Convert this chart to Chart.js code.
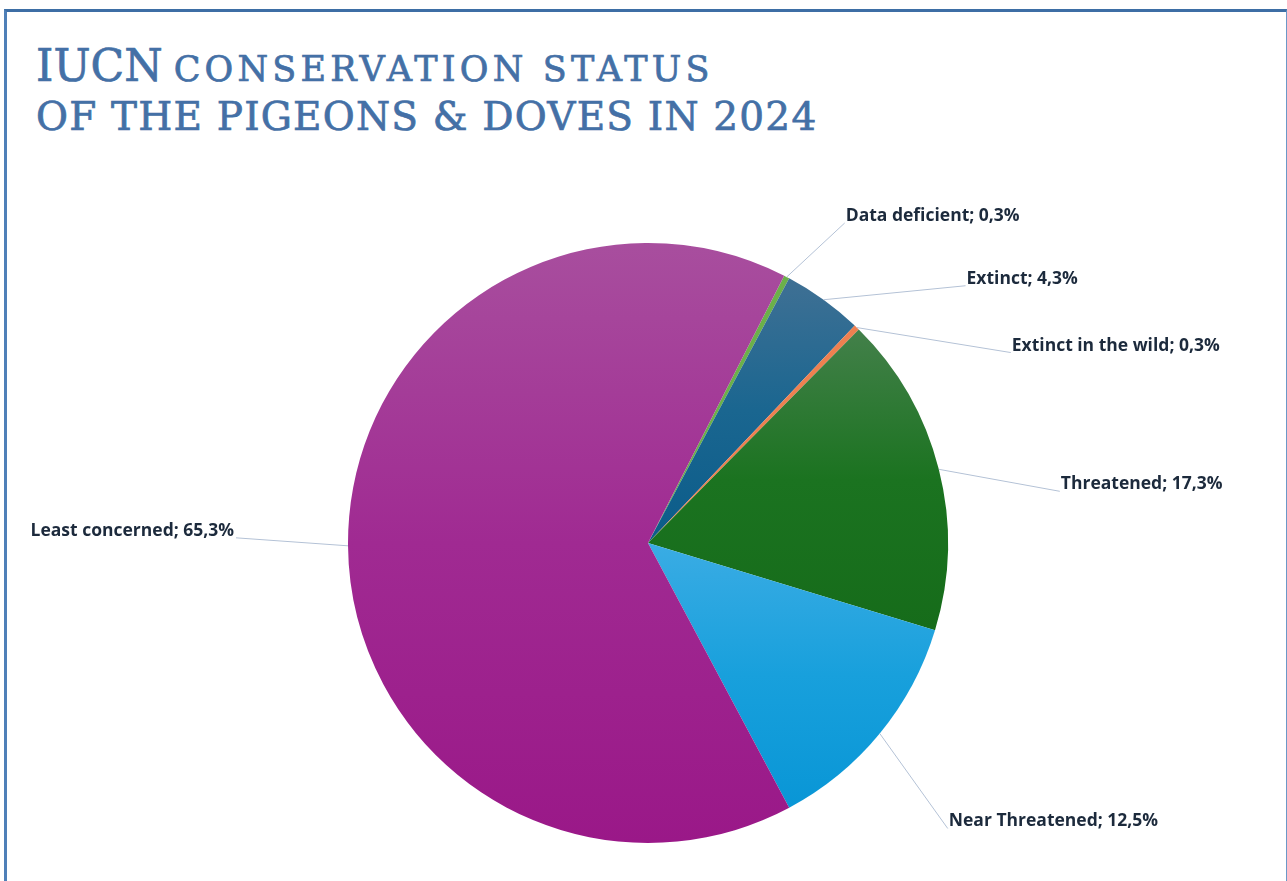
<!DOCTYPE html>
<html>
<head>
<meta charset="utf-8">
<script src="https://cdn.jsdelivr.net/npm/chart.js@4"></script>
<style>
	html, body { margin: 0; padding: 0; background: #fff; }
	#wrap { position: relative; width: 1287px; height: 881px; overflow: hidden; }
	#frame {
		position: absolute; left: 4px; top: 9px; width: 1279px; height: 900px;
		border-top: 3px solid #3d6ea5; border-left: 3px solid #4f80b8; border-right: 1px solid #6b98c8;
	}
	.title {
		position: absolute; left: 36px; font-family: "DejaVu Serif", serif; color: #4470a6;
		-webkit-text-stroke: 0.7px #4470a6; white-space: nowrap; line-height: 1;
	}
	#t1 { top: 44px; }
	#t1 .big { font-size: 44px; margin-right: 11px; }
	#t1 .small { font-size: 35px; letter-spacing: 4.2px; }
	#t2 { top: 97px; font-size: 39px; letter-spacing: 1.2px; }
	#chart-box { position: absolute; left: 0; top: 0; width: 1287px; height: 881px; }
</style>
</head>
<body>
<div id="wrap">
	<div id="frame"></div>
	<div class="title" id="t1"><span class="big">IUCN</span><span class="small">CONSERVATION STATUS</span></div>
	<div class="title" id="t2">OF THE PIGEONS &amp; DOVES IN 2024</div>
	<div id="chart-box"><canvas id="pie"></canvas></div>
</div>
<script>
// data, clockwise from the top
const statusLabels = ['Data deficient', 'Extinct', 'Extinct in the wild', 'Threatened', 'Near Threatened', 'Least concerned'];
const statusShares = [0.3, 4.3, 0.3, 17.3, 12.5, 65.3];

// colour stops per slice, top of slice -> bottom
const sliceColors = [
	['#6cb04a', '#6cb04a'],
	['#3f7094', '#1a6690', '#0b5c8a'],
	['#ee8050', '#ee8050'],
	['#43804a', '#1b7320', '#166c1a'],
	['#3aace4', '#18a0dc', '#0996d6'],
	['#a84e9e', '#a02a92', '#9a1888']
];

// where each label sits, relative to the slice edge point
const labelOffsets = [[58, -54], [142, -14], [154, 25], [121, 22], [68, 95], [-112, -8]];

const startRotation = 27;
const total = statusShares.reduce((a, b) => a + b, 0);

function sliceGradient(ctx) {
	const chart = ctx.chart;
	const area = chart.chartArea;
	const stops = sliceColors[ctx.dataIndex];
	if (!area) return stops[stops.length - 1];

	const cy = (area.top + area.bottom) / 2;
	const r = Math.min(area.width, area.height) / 2;

	let before = 0;
	for (let i = 0; i < ctx.dataIndex; i++) before += statusShares[i];
	const a0 = (startRotation - 90) * Math.PI / 180 + before / total * Math.PI * 2;
	const a1 = a0 + statusShares[ctx.dataIndex] / total * Math.PI * 2;

	let ymin = cy, ymax = cy;
	const steps = 60;
	for (let s = 0; s <= steps; s++) {
		const a = a0 + (a1 - a0) * s / steps;
		const y = cy + Math.sin(a) * r;
		ymin = Math.min(ymin, y);
		ymax = Math.max(ymax, y);
	}

	const g = chart.ctx.createLinearGradient(0, ymin, 0, ymax);
	stops.forEach((c, k) => g.addColorStop(stops.length > 1 ? k / (stops.length - 1) : 0, c));
	return g;
}

const leaderLabels = {
	id: 'leaderLabels',
	afterDatasetsDraw(chart) {
		const ctx = chart.ctx;
		const meta = chart.getDatasetMeta(0);
		ctx.save();
		ctx.font = 'bold 17.5px "Open Sans", sans-serif';
		ctx.textBaseline = 'middle';
		meta.data.forEach((arc, i) => {
			const mid = (arc.startAngle + arc.endAngle) / 2;
			const ex = arc.x + Math.cos(mid) * arc.outerRadius;
			const ey = arc.y + Math.sin(mid) * arc.outerRadius;
			const [dx, dy] = labelOffsets[i];
			const lx = ex + dx;
			const ly = ey + dy;

			ctx.strokeStyle = '#b4c2d6';
			ctx.lineWidth = 1;
			ctx.beginPath();
			ctx.moveTo(ex, ey);
			ctx.lineTo(lx, ly);
			ctx.stroke();

			const txt = `${statusLabels[i]}; ${statusShares[i].toFixed(1).replace('.', ',')}%`;
			ctx.fillStyle = '#1c2a3c';
			if (dx >= 0) {
				ctx.textAlign = 'left';
				ctx.fillText(txt, lx + 1, ly - 7);
			} else {
				ctx.textAlign = 'right';
				ctx.fillText(txt, lx - 2, ly - 7);
			}
		});
		ctx.restore();
	}
};

new Chart(document.getElementById('pie'), {
	type: 'pie',
	data: {
		labels: statusLabels,
		datasets: [{
			data: statusShares,
			backgroundColor: sliceGradient,
			borderWidth: 0
		}]
	},
	options: {
		responsive: true,
		maintainAspectRatio: false,
		animation: false,
		events: [],
		rotation: startRotation,
		layout: { padding: { top: 243, bottom: 38, left: 9, right: 0 } },
		plugins: {
			legend: { display: false },
			tooltip: { enabled: false }
		}
	},
	plugins: [leaderLabels]
});
</script>
</body>
</html>
